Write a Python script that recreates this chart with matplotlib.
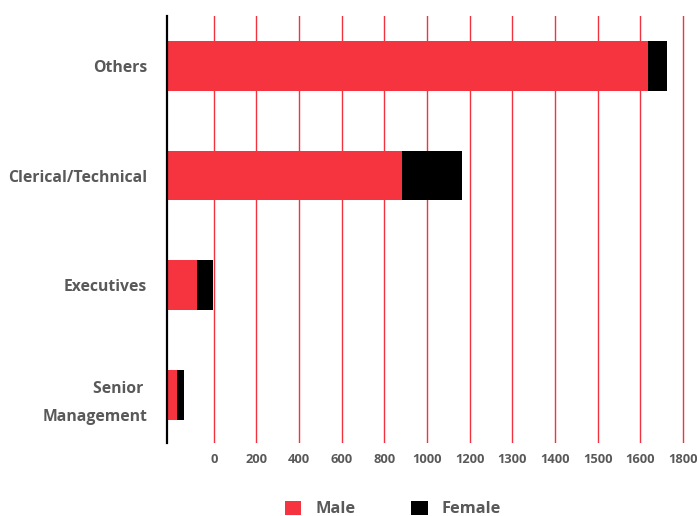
import matplotlib
matplotlib.use("Agg")
import matplotlib.pyplot as plt
from matplotlib.patches import Patch

# Headcount by job grade, split by gender
categories = ["Senior \nManagement", "Executives", "Clerical/Technical", "Others"]
male = [25, 72, 552, 1129]
female = [16, 38, 141, 44]

# Value-axis gridlines and the labels printed under them
tick_values = [111, 211, 311, 411, 511, 611, 711, 811, 911, 1011, 1111, 1211]
tick_labels = ["0", "200", "400", "600", "800", "1000", "1200",
               "1300", "1400", "1500", "1600", "1800"]

MALE_COLOR = "#F5343F"
FEMALE_COLOR = "#000000"
GRID_COLOR = "#F0333F"
TEXT_COLOR = "#595959"

plt.rcParams["font.family"] = ["Open Sans", "DejaVu Sans"]
plt.rcParams["font.weight"] = "bold"

W, H = 697, 516
fig = plt.figure(figsize=(W / 100, H / 100), dpi=100)
left_px, right_px, top_px, bottom_px = 166.5, 690, 16, 443
ax = fig.add_axes([left_px / W, 1 - bottom_px / H,
                   (right_px - left_px) / W, (bottom_px - top_px) / H])

y = list(range(len(categories)))
bar_h = 0.455
ax.barh(y, male, height=bar_h, color=MALE_COLOR, zorder=3)
ax.barh(y, female, left=male, height=bar_h, color=FEMALE_COLOR, zorder=3)

ax.set_xlim(0, (right_px - left_px) / 42.64 * 100)
ax.set_ylim(-0.44, 3.455)

ax.set_xticks(tick_values)
ax.set_xticklabels(tick_labels, fontsize=9.3, fontweight="bold", color=TEXT_COLOR)
ax.set_yticks(y)
ax.set_yticklabels(categories, fontsize=11.3, fontweight="bold", color=TEXT_COLOR,
                   linespacing=2.05)
ax.tick_params(axis="x", length=0, pad=7)
ax.tick_params(axis="y", length=0, pad=14)
# nudge the two-line label down a little, as it sits below its bar centre
ax.get_yticklabels()[0].set_y(-0.06)

ax.grid(axis="x", color=GRID_COLOR, linewidth=1.0, zorder=1)
ax.grid(axis="y", visible=False)
for side in ("top", "right", "bottom"):
    ax.spines[side].set_visible(False)
ax.spines["left"].set_color("black")
ax.spines["left"].set_linewidth(1.6)
ax.spines["left"].set_zorder(4)

handles = [Patch(facecolor=MALE_COLOR, edgecolor="none", label="Male"),
           Patch(facecolor=FEMALE_COLOR, edgecolor="none", label="Female")]
fig.legend(handles=handles, loc="center", bbox_to_anchor=(393 / W, 1 - 509 / H),
           ncol=2, frameon=False, handlelength=1.0, handleheight=1.0,
           handletextpad=0.85, columnspacing=3.4,
           prop={"size": 11.8, "weight": "bold"}, labelcolor=TEXT_COLOR)

fig.savefig("out.png", dpi=100, facecolor="white")
